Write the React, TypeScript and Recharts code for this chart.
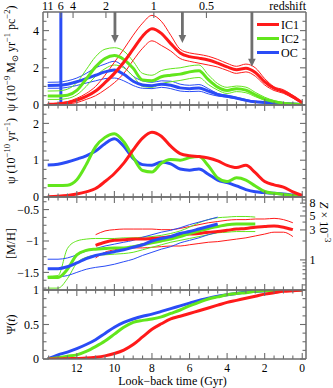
import React from "react";
import { LineChart, Line, XAxis, YAxis, ReferenceLine, Legend } from "recharts";

const W = 333;
const H = 388;
const FONT = "'Liberation Serif', 'DejaVu Serif', serif";
const FRAME = "#6e6e6e";
const RED = "#ff1a1a";
const GREEN = "#62e61c";
const BLUE = "#2a4cf6";
const ARROW = "#6f6f6f";

// look-back time grid (Gyr)
const lookback = [13.55, 13, 12.5, 12, 11.5, 11, 10.5, 10, 9.5, 9, 8.5, 8, 7.5, 7, 6.5, 6, 5.5, 5, 4.5, 4, 3.5, 3, 2.5, 2, 1.5, 1, 0.5, 0];

// panel 1: SFR surface density, best fit + upper/lower envelopes
const ic1Sfr = [0.04, 0.06, 0.12, 0.26, 0.46, 0.75, 1.2, 1.7, 2.3, 3.0, 3.7, 4.1, 3.85, 3.3, 2.8, 2.6, 2.52, 2.42, 2.25, 2.05, 1.9, 1.98, 1.75, 1.25, 0.9, 0.72, 0.45, 0.12];
const ic1SfrHi = [0.07, 0.1, 0.18, 0.36, 0.62, 1.0, 1.6, 2.3, 3.0, 3.75, 4.4, 4.82, 4.5, 3.75, 3.0, 2.8, 2.72, 2.62, 2.45, 2.24, 2.08, 2.2, 2.0, 1.42, 0.98, 0.82, 0.52, 0.16];
const ic1SfrLo = [0.02, 0.03, 0.06, 0.13, 0.3, 0.5, 0.82, 1.2, 1.7, 2.4, 3.05, 3.45, 3.2, 2.9, 2.5, 2.35, 2.25, 2.15, 2.04, 1.86, 1.7, 1.78, 1.55, 1.08, 0.78, 0.63, 0.37, 0.08];
const ic2Sfr = [0.48, 0.48, 0.52, 0.78, 1.4, 2.05, 2.5, 2.66, 2.45, 1.97, 1.34, 1.3, 1.52, 1.6, 1.66, 1.78, 1.84, 1.36, 0.96, 0.78, 0.88, 0.8, 0.55, 0.32, 0.18, 0.1, 0.05, 0.02];
const ic2SfrHi = [0.75, 0.76, 0.85, 1.2, 1.9, 2.6, 3.0, 3.08, 2.9, 2.35, 1.7, 1.6, 1.85, 1.95, 2.0, 2.1, 2.15, 1.62, 1.15, 0.95, 1.02, 0.96, 0.68, 0.42, 0.24, 0.13, 0.06, 0.03];
const ic2SfrLo = [0.3, 0.3, 0.35, 0.55, 1.0, 1.55, 1.95, 2.15, 2.0, 1.55, 1.0, 0.95, 1.15, 1.25, 1.32, 1.42, 1.48, 1.1, 0.8, 0.62, 0.72, 0.66, 0.45, 0.26, 0.14, 0.08, 0.04, 0.01];
const ocSfr = [1.05, 1.06, 1.12, 1.25, 1.42, 1.6, 1.78, 1.88, 1.65, 1.28, 1.08, 1.04, 1.12, 1.06, 0.92, 0.88, 0.92, 0.75, 0.56, 0.47, 0.37, 0.25, 0.17, 0.14, 0.11, 0.08, 0.05, 0.02];
const ocSfrHi = [1.22, 1.23, 1.3, 1.45, 1.7, 2.0, 2.2, 2.35, 2.05, 1.55, 1.3, 1.22, 1.3, 1.28, 1.12, 1.06, 1.1, 0.88, 0.62, 0.52, 0.42, 0.3, 0.2, 0.16, 0.12, 0.09, 0.06, 0.03];
const ocSfrLo = [0.9, 0.9, 0.95, 1.05, 1.18, 1.3, 1.42, 1.45, 1.3, 1.05, 0.9, 0.88, 0.95, 0.88, 0.75, 0.72, 0.74, 0.6, 0.48, 0.42, 0.33, 0.22, 0.14, 0.12, 0.09, 0.07, 0.04, 0.01];

// panel 2: specific SFR
const ic1Ssfr = [0.01, 0.02, 0.04, 0.08, 0.14, 0.23, 0.42, 0.64, 0.92, 1.28, 1.6, 1.76, 1.65, 1.38, 1.18, 1.12, 1.1, 1.06, 0.98, 0.86, 0.8, 0.86, 0.66, 0.42, 0.33, 0.27, 0.14, 0.04];
const ic2Ssfr = [0.31, 0.31, 0.32, 0.47, 0.88, 1.37, 1.62, 1.72, 1.5, 1.08, 0.72, 0.68, 0.92, 1.02, 1.0, 1.07, 1.1, 0.85, 0.52, 0.42, 0.52, 0.46, 0.3, 0.15, 0.1, 0.07, 0.04, 0.02];
const ocSsfr = [0.87, 0.89, 0.95, 1.03, 1.12, 1.25, 1.45, 1.58, 1.38, 1.05, 0.88, 0.86, 0.95, 0.9, 0.76, 0.73, 0.76, 0.62, 0.46, 0.39, 0.3, 0.2, 0.14, 0.12, 0.1, 0.08, 0.05, 0.02];

// panel 3: metallicity [M/H]
const ic1Met = [null, null, null, null, null, -1.07, -1.02, -0.99, -0.98, -0.97, -0.97, -0.96, -0.95, -0.93, -0.9, -0.89, -0.88, -0.86, -0.85, -0.83, -0.81, -0.8, -0.78, -0.77, -0.76, -0.78, -0.82, null];
const ic1MetHi = [null, null, null, null, null, -0.9, -0.84, -0.82, -0.81, -0.81, -0.81, -0.81, -0.82, -0.82, -0.8, -0.77, -0.74, -0.71, -0.69, -0.67, -0.66, -0.66, -0.65, -0.65, -0.64, -0.66, -0.71, null];
const ic1MetLo = [null, null, null, null, null, -1.27, -1.18, -1.14, -1.12, -1.11, -1.11, -1.1, -1.09, -1.08, -1.08, -1.06, -1.04, -1.02, -1.01, -0.99, -0.97, -0.95, -0.92, -0.89, -0.86, -0.86, -0.93, null];
const ic2Met = [-1.58, -1.58, -1.45, -1.22, -1.15, -1.13, -1.12, -1.11, -1.11, -1.09, -1.06, -1.03, -1.0, -0.97, -0.93, -0.88, -0.84, -0.8, -0.77, -0.74, -0.73, -0.73, -0.73, null, null, null, null, null];
const ic2MetHi = [-1.56, -1.55, -1.12, -1.0, -0.97, -0.96, -0.96, -0.96, -0.95, -0.95, -0.94, -0.93, -0.91, -0.88, -0.84, -0.78, -0.71, -0.66, -0.63, -0.62, -0.61, -0.61, -0.62, null, null, null, null, null];
const ic2MetLo = [-1.75, -1.75, -1.6, -1.35, -1.26, -1.23, -1.22, -1.21, -1.2, -1.18, -1.14, -1.1, -1.06, -1.02, -0.99, -0.96, -0.93, -0.9, -0.87, -0.86, -0.85, -0.85, -0.85, null, null, null, null, null];
const ocMet = [-1.44, -1.44, -1.41, -1.35, -1.28, -1.23, -1.2, -1.17, -1.14, -1.1, -1.06, -1.0, -0.96, -0.93, -0.88, -0.85, -0.81, -0.77, -0.73, null, null, null, null, null, null, null, null, null];
const ocMetHi = [-1.29, -1.29, -1.27, -1.22, -1.16, -1.12, -1.08, -1.05, -1.02, -0.99, -0.94, -0.9, -0.86, -0.83, -0.79, -0.74, -0.7, -0.66, -0.62, null, null, null, null, null, null, null, null, null];
const ocMetLo = [-1.57, -1.57, -1.55, -1.5, -1.45, -1.42, -1.4, -1.37, -1.33, -1.29, -1.23, -1.18, -1.13, -1.09, -1.03, -0.99, -0.95, -0.9, -0.86, null, null, null, null, null, null, null, null, null];

// panel 4: cumulative mass fraction
const ic1Cum = [0, 0, 0.005, 0.008, 0.013, 0.025, 0.045, 0.08, 0.13, 0.21, 0.32, 0.43, 0.51, 0.58, 0.62, 0.66, 0.7, 0.74, 0.78, 0.82, 0.85, 0.88, 0.91, 0.94, 0.96, 0.98, 0.99, 1];
const ic2Cum = [0, 0.02, 0.04, 0.06, 0.11, 0.18, 0.26, 0.36, 0.46, 0.53, 0.56, 0.58, 0.61, 0.66, 0.71, 0.77, 0.82, 0.87, 0.9, 0.93, 0.95, 0.96, 0.98, 0.99, 0.995, 1, 1, 1];
const ocCum = [0, 0.06, 0.1, 0.15, 0.21, 0.28, 0.37, 0.46, 0.53, 0.58, 0.62, 0.65, 0.69, 0.73, 0.77, 0.81, 0.85, 0.88, 0.91, 0.93, 0.95, 0.97, 0.98, 0.99, 0.995, 1, 1, 1];

// axis ticks
const gyrMajor = [12, 10, 8, 6, 4, 2, 0];
const gyrLabels = ["12", "10", "8", "6", "4", "2", "0"];
const gyrMinor = [13.5, 13, 12.5, 11.5, 11, 10.5, 9.5, 9, 8.5, 7.5, 7, 6.5, 5.5, 5, 4.5, 3.5, 3, 2.5, 1.5, 1, 0.5];
const zAt = [13.55, 12.85, 12.2, 10.45, 7.9, 5.1];
const zLabels = ["11", "6", "4", "2", "1", "0.5"];
const p1Major = [0, 2, 4];
const p1Labels = ["0", "2", "4"];
const p1Minor = [0.5, 1, 1.5, 2.5, 3, 3.5, 4.5];
const p2Major = [0, 1, 2];
const p2Labels = ["0", "1", "2"];
const p2Minor = [0.25, 0.5, 0.75, 1.25, 1.5, 1.75, 2.25];
const p3Major = [-1.5, -1, -0.5];
const p3Labels = ["\u22121.5", "\u22121", "\u22120.5"];
const p3Minor = [-1.75, -1.625, -1.375, -1.25, -1.125, -0.875, -0.75, -0.625, -0.375];
const p4Major = [0, 0.5, 1];
const p4Labels = ["0", "0.5", "1"];
const p4Minor = [0.125, 0.25, 0.375, 0.625, 0.75, 0.875];
const zMetMajor = [1, 3, 5, 8];
const zMetMinor = [0.4, 0.5, 0.6, 0.7, 0.8, 0.9, 2, 4, 6, 7, 9];

// arrows and the z=6 marker in the top panel
const arrowAt = [9.97, 6.38, 2.68];
const arrowTip = [3.33, 3.33, 2.06];
const reionAt = 12.85;

const legendNames = ["IC1", "IC2", "OC"];
const legendColors = [RED, GREEN, BLUE];

// Z (units of 1e-3) -> [M/H], solar Z = 0.02
const toMH = (z: number) => Math.log10((z * 1e-3) / 0.02);
const zMajorPos = zMetMajor.map(toMH);
const zMinorPos = zMetMinor.map(toMH);

const sfrRows = lookback.map((t, i) => ({
  t, ic1: ic1Sfr[i], ic1hi: ic1SfrHi[i], ic1lo: ic1SfrLo[i],
  ic2: ic2Sfr[i], ic2hi: ic2SfrHi[i], ic2lo: ic2SfrLo[i],
  oc: ocSfr[i], ochi: ocSfrHi[i], oclo: ocSfrLo[i],
}));
const ssfrRows = lookback.map((t, i) => ({ t, ic1: ic1Ssfr[i], ic2: ic2Ssfr[i], oc: ocSsfr[i] }));
const metRows = lookback.map((t, i) => ({
  t, ic1: ic1Met[i], ic1hi: ic1MetHi[i], ic1lo: ic1MetLo[i],
  ic2: ic2Met[i], ic2hi: ic2MetHi[i], ic2lo: ic2MetLo[i],
  oc: ocMet[i], ochi: ocMetHi[i], oclo: ocMetLo[i],
}));
const cumRows = lookback.map((t, i) => ({ t, ic1: ic1Cum[i], ic2: ic2Cum[i], oc: ocCum[i] }));

const PLOT_L = 43;
const PLOT_R = 306;
const X_DOMAIN: [number, number] = [-0.2, 13.8];
const txt = { fontSize: 12, fontFamily: FONT, fill: "#000" };

// inward ticks for every side of the box; labels only where given
function makeTick(side: "bottom" | "top" | "left" | "right", majors: number[], labels?: string[]) {
  return (p: any) => {
    const v = p.payload.value;
    const k = majors.indexOf(v);
    const len = k >= 0 ? 6 : 3.5;
    const lab = labels && k >= 0 ? labels[k] : null;
    const { x, y } = p;
    let line: number[] = [];
    let text = null;
    if (side === "bottom") {
      line = [x, y, x, y - len];
      if (lab) text = <text x={x} y={y + 12.5} textAnchor="middle" {...txt} fontSize={11.5}>{lab}</text>;
    } else if (side === "top") {
      line = [x, y, x, y + len];
      if (lab) text = <text x={x} y={y - 2.5} textAnchor="middle" {...txt}>{lab}</text>;
    } else if (side === "left") {
      line = [x, y, x + len, y];
      if (lab) text = <text x={x - 4} y={y + 4.2} textAnchor="end" {...txt}>{lab}</text>;
    } else {
      line = [x, y, x - len, y];
      if (lab) text = <text x={x + 3.5} y={y + 4.2} textAnchor="start" {...txt}>{lab}</text>;
    }
    return (
      <g>
        <line x1={line[0]} y1={line[1]} x2={line[2]} y2={line[3]} stroke={FRAME} strokeWidth={1.1} />
        {text}
      </g>
    );
  };
}

const yTitle = (content: React.ReactNode) => (p: any) => {
  const vb = p.viewBox;
  return (
    <text transform={`translate(15,${vb.y + vb.height / 2}) rotate(-90)`} textAnchor="middle" {...txt}>
      {content}
    </text>
  );
};

const sup = (s: string) => <tspan dy={-5} fontSize={8.5}>{s}</tspan>;

const arrowShape = (p: any) => {
  const { x1, y1, x2, y2 } = p;
  return (
    <g>
      <line x1={x1} y1={y1} x2={x2} y2={y2 - 7} stroke={ARROW} strokeWidth={2.8} />
      <polygon points={`${x2 - 3.8},${y2 - 8} ${x2 + 3.8},${y2 - 8} ${x2},${y2}`} fill={ARROW} />
    </g>
  );
};

const legendBox = () => (
  <svg width={60} height={48}>
    {legendNames.map((n, i) => (
      <g key={n}>
        <line x1={2} x2={24} y1={8.5 + 14 * i} y2={8.5 + 14 * i} stroke={legendColors[i]} strokeWidth={3} />
        <text x={26} y={13 + 14 * i} {...txt}>{n}</text>
      </g>
    ))}
  </svg>
);

const axisLine = { stroke: FRAME, strokeWidth: 1.5 };

function frame(top: number, bottom: number, yDomain: [number, number], yMajor: number[], yMinor: number[], opts: {
  yLabels?: string[]; bottomLabels?: boolean; topRedshift?: boolean; yLabel: (p: any) => React.ReactNode;
  xLabel?: (p: any) => React.ReactNode; xTopLabel?: (p: any) => React.ReactNode; zRight?: boolean; zLabel?: (p: any) => React.ReactNode;
}) {
  return [
    <XAxis key="xb" xAxisId="b" dataKey="t" type="number" domain={X_DOMAIN} reversed allowDataOverflow
      ticks={[...gyrMajor, ...gyrMinor]} interval={0} tickSize={0} tickMargin={0} tickLine={false} height={1}
      axisLine={axisLine} tick={makeTick("bottom", gyrMajor, opts.bottomLabels ? gyrLabels : undefined)}
      label={opts.xLabel ? { content: opts.xLabel } : undefined} />,
    <XAxis key="xt" xAxisId="t" dataKey="t" type="number" orientation="top" domain={X_DOMAIN} reversed allowDataOverflow
      ticks={opts.topRedshift ? zAt : [...gyrMajor, ...gyrMinor]} interval={0} tickSize={0} tickMargin={0} tickLine={false} height={1}
      axisLine={axisLine} tick={opts.topRedshift ? makeTick("top", zAt, zLabels) : makeTick("top", gyrMajor)}
      label={opts.xTopLabel ? { content: opts.xTopLabel } : undefined} />,
    <YAxis key="yl" yAxisId="l" domain={yDomain} allowDataOverflow ticks={[...yMajor, ...yMinor]} interval={0}
      tickSize={0} tickMargin={0} tickLine={false} width={1} axisLine={axisLine}
      tick={makeTick("left", yMajor, opts.yLabels)} label={{ content: opts.yLabel }} />,
    <YAxis key="yr" yAxisId="r" orientation="right" domain={yDomain} allowDataOverflow
      ticks={opts.zRight ? [...zMajorPos, ...zMinorPos] : [...yMajor, ...yMinor]} interval={0}
      tickSize={0} tickMargin={0} tickLine={false} width={1} axisLine={axisLine}
      tick={opts.zRight ? makeTick("right", zMajorPos, zMetMajor.map(String)) : makeTick("right", yMajor)}
      label={opts.zLabel ? { content: opts.zLabel } : undefined} />,
  ];
}

const margins = (top: number, bottom: number) => ({ top: top - 1, bottom: H - bottom - 1, left: PLOT_L - 1, right: W - PLOT_R - 1 });

const line = (key: string, color: string, thick: boolean) => (
  <Line key={key} xAxisId="b" yAxisId="l" dataKey={key} type="monotone" stroke={color} strokeWidth={thick ? 3 : 1}
    dot={false} activeDot={false} legendType="none" isAnimationActive={false} />
);

const layer: React.CSSProperties = { position: "absolute", left: 0, top: 0 };

export default function App() {
  return (
    <div style={{ position: "absolute", left: 0, top: 0, width: W, height: H, background: "#fff", fontFamily: FONT }}>
      <div style={layer}>
        <LineChart width={W} height={H} data={sfrRows} margin={margins(12, 105)}>
          {frame(12, 105, [0, 5], p1Major, p1Minor, {
            yLabels: p1Labels, topRedshift: true,
            yLabel: yTitle(<>{"\u03c8 (10"}{sup("\u22129")}<tspan dy={5}>{" M"}</tspan><tspan dy={3} fontSize={8.5}>{"\u2299"}</tspan><tspan dy={-3}>{" yr"}</tspan>{sup("\u22121")}<tspan dy={5}>{" pc"}</tspan>{sup("\u22122")}<tspan dy={5}>{")"}</tspan></>),
            xTopLabel: (p: any) => <text x={p.viewBox.x + p.viewBox.width} y={10} textAnchor="end" {...txt}>redshift</text>,
          })}
          <ReferenceLine xAxisId="b" yAxisId="l" x={reionAt} stroke={BLUE} strokeWidth={3} />
          {line("oclo", BLUE, false)}
          {line("ochi", BLUE, false)}
          {line("ic2lo", GREEN, false)}
          {line("ic2hi", GREEN, false)}
          {line("ic1lo", RED, false)}
          {line("ic1hi", RED, false)}
          {line("oc", BLUE, true)}
          {line("ic2", GREEN, true)}
          {line("ic1", RED, true)}
          {arrowAt.map((t, i) => (
            <ReferenceLine key={`arr${i}`} xAxisId="b" yAxisId="l" segment={[{ x: t, y: 5 }, { x: t, y: arrowTip[i] }]} shape={arrowShape} />
          ))}
          <Legend layout="horizontal" verticalAlign="middle" align="center" content={legendBox}
            wrapperStyle={{ left: 255, top: 15.5, width: 60, height: 48 }} />
        </LineChart>
      </div>
      <div style={layer}>
        <LineChart width={W} height={H} data={ssfrRows} margin={margins(105, 197)}>
          {frame(105, 197, [0, 2.5], p2Major, p2Minor, {
            yLabels: p2Labels,
            yLabel: yTitle(<>{"\u03c8 (10"}{sup("\u221210")}<tspan dy={5}>{" yr"}</tspan>{sup("\u22121")}<tspan dy={5}>{")"}</tspan></>),
          })}
          {line("oc", BLUE, true)}
          {line("ic2", GREEN, true)}
          {line("ic1", RED, true)}
        </LineChart>
      </div>
      <div style={layer}>
        <LineChart width={W} height={H} data={metRows} margin={margins(197, 290)}>
          {frame(197, 290, [-1.78, -0.3], p3Major, p3Minor, {
            yLabels: p3Labels, zRight: true,
            yLabel: yTitle("[M/H]"),
            zLabel: (p: any) => (
              <text transform={`translate(319.5,${p.viewBox.y + 25}) rotate(90)`} textAnchor="middle" {...txt}>
                <tspan fontStyle="italic">Z</tspan>{" \u00d7 10"}{sup("\u22123")}
              </text>
            ),
          })}
          {line("ic1lo", RED, false)}
          {line("ic1hi", RED, false)}
          {line("ic2lo", GREEN, false)}
          {line("ic2hi", GREEN, false)}
          {line("oclo", BLUE, false)}
          {line("ochi", BLUE, false)}
          {line("ic1", RED, true)}
          {line("ic2", GREEN, true)}
          {line("oc", BLUE, true)}
        </LineChart>
      </div>
      <div style={layer}>
        <LineChart width={W} height={H} data={cumRows} margin={margins(290, 359)}>
          {frame(290, 359, [0, 1], p4Major, p4Minor, {
            yLabels: p4Labels, bottomLabels: true,
            yLabel: yTitle(<>{"\u03a8("}<tspan fontStyle="italic">t</tspan>{")"}</>),
            xLabel: (p: any) => (
              <text x={p.viewBox.x + p.viewBox.width / 2 - 2} y={384.5} textAnchor="middle" {...txt}>
                {"Look\u2212back time (Gyr)"}
              </text>
            ),
          })}
          {line("oc", BLUE, true)}
          {line("ic2", GREEN, true)}
          {line("ic1", RED, true)}
        </LineChart>
      </div>
    </div>
  );
}
